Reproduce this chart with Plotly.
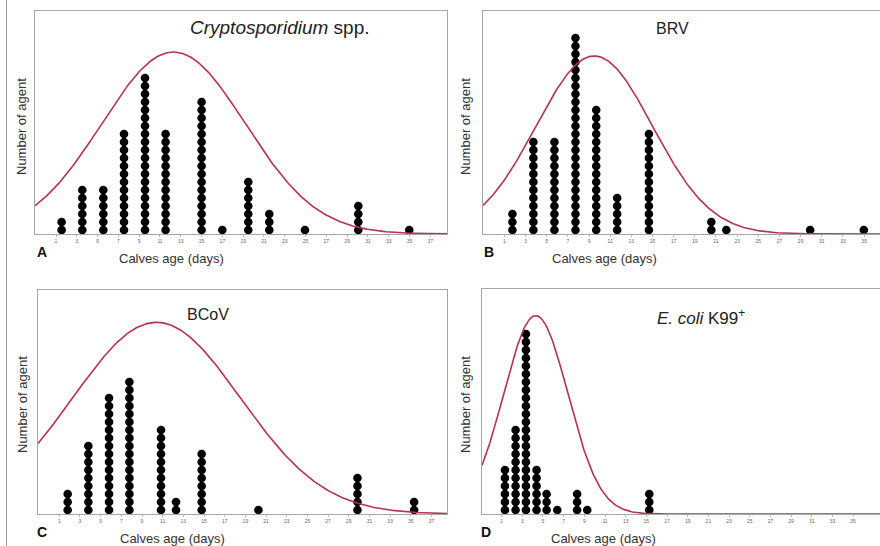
import numpy as np
import plotly.graph_objects as go

W, H = 880, 546

# ---- data (age bin centre, number of dots) ----
a_age = [1.54, 3.53, 5.55, 7.54, 9.56, 11.54, 15.0, 16.99, 19.49, 21.51, 24.94, 30.07, 34.97]
a_cnt = [2, 6, 6, 13, 20, 13, 17, 1, 7, 3, 1, 4, 1]

b_age = [1.76, 3.74, 5.73, 7.72, 9.68, 11.66, 14.66, 20.56, 21.98, 29.9, 34.97]
b_cnt = [3, 12, 12, 25, 16, 5, 13, 2, 1, 1, 1]

c_age = [1.81, 3.81, 5.81, 7.78, 10.84, 12.29, 14.77, 20.26, 29.84, 35.32]
c_cnt = [3, 9, 15, 17, 11, 2, 8, 1, 5, 2]

d_age = [1.32, 2.35, 3.35, 4.38, 5.35, 6.38, 8.3, 9.28, 15.28]
d_cnt = [6, 11, 23, 6, 3, 1, 3, 1, 3]

# normal-curve fits (mean, sd, peak height in dot units)
a_fit = (12.3, 6.9, 22.75)
b_fit = (9.5, 5.5, 22.25)
c_fit = (10.4, 8.1, 23.96)
d_fit = (4.3, 3.1, 24.8)

titles = ["<i>Cryptosporidium</i> spp.", "BRV", "BCoV", "<i>E. coli</i> K99<sup>+</sup>"]
title_sizes = [19, 16, 16, 17]
letters = ["A", "B", "C", "D"]
xtitle = "Calves age (days)"
ytitle = "Number of agent"
ticks_ac = list(range(1, 38, 2))
ticks_bd = list(range(1, 36, 2))

# ---- layout geometry (pixels) ----
panels = [
    dict(l=35, r=447, t=11, b=234, xr=(-1.02, 38.6), tt=(280, 27), lt=(42, 252), yx=22, yc=127, right=True, tv=ticks_ac),
    dict(l=483, r=880, t=11, b=234, xr=(-1.02, 36.5), tt=(672, 28), lt=(489, 252), yx=466, yc=127, right=False, tv=ticks_bd),
    dict(l=38, r=447, t=290, b=514, xr=(-1.06, 38.5), tt=(208, 314), lt=(42, 532), yx=22, yc=405, right=True, tv=ticks_ac),
    dict(l=482, r=880, t=289, b=514, xr=(-0.9, 37.6), tt=(701, 317), lt=(486, 532), yx=465, yc=405, right=False, tv=ticks_bd),
]
data = [(a_age, a_cnt, a_fit), (b_age, b_cnt, b_fit), (c_age, c_cnt, c_fit), (d_age, d_cnt, d_fit)]

DOT = 8.0  # pixel pitch of stacked dots
CURVE = "#b8324f"
GRID = "#a6a6a6"
FONT = "Arial, Liberation Sans, sans-serif"

fig = go.Figure()
layout = dict(width=W, height=H, margin=dict(l=0, r=0, t=0, b=0),
              paper_bgcolor="white", plot_bgcolor="white", showlegend=False,
              font=dict(family=FONT, color="#333"))
annotations = []
shapes = []

def px(x):
    return x / W

def py(y):
    return (H - y) / H

for i, (p, (ages, cnts, fit)) in enumerate(zip(panels, data)):
    k = "" if i == 0 else str(i + 1)
    xa, ya = "x" + k, "y" + k
    yr = (0, (p["b"] - p["t"]) / DOT)
    xs, ys = [], []
    for a, n in zip(ages, cnts):
        for j in range(n):
            xs.append(a)
            ys.append(j + 0.5)
    fig.add_trace(go.Scatter(x=xs, y=ys, mode="markers", xaxis=xa, yaxis=ya,
                             marker=dict(size=8.6, color="black", line=dict(width=0)),
                             hoverinfo="skip"))
    mu, sd, pk = fit
    cx = np.linspace(p["xr"][0], p["xr"][1], 400)
    cy = pk * np.exp(-((cx - mu) ** 2) / (2 * sd ** 2))
    fig.add_trace(go.Scatter(x=cx, y=cy, mode="lines", xaxis=xa, yaxis=ya,
                             line=dict(color=CURVE, width=1.6), hoverinfo="skip"))
    layout["xaxis" + k] = dict(domain=[px(p["l"]), px(p["r"])], range=list(p["xr"]),
                               anchor=ya, showgrid=False, zeroline=False,
                               showline=True, linecolor=GRID, linewidth=1.2, mirror=True,
                               tickvals=p["tv"], ticktext=[str(t) for t in p["tv"]],
                               ticks="outside", ticklen=2, tickcolor="#bbb", tickwidth=0.6,
                               tickfont=dict(size=5, color="#666", family=FONT))
    layout["yaxis" + k] = dict(domain=[py(p["b"]), py(p["t"])], range=list(yr),
                               anchor=xa, showgrid=False, zeroline=False,
                               showline=True, linecolor=GRID, linewidth=1.2,
                               mirror=p["right"], showticklabels=False, ticks="")
    annotations.append(dict(text=titles[i], x=px(p["tt"][0]), y=py(p["tt"][1]),
                            xref="paper", yref="paper", showarrow=False,
                            xanchor="center", yanchor="middle",
                            font=dict(size=title_sizes[i], color="#222", family=FONT)))
    annotations.append(dict(text="<b>" + letters[i] + "</b>", x=px(p["lt"][0]), y=py(p["lt"][1]),
                            xref="paper", yref="paper", showarrow=False,
                            xanchor="center", yanchor="middle",
                            font=dict(size=14, color="#111", family=FONT)))
    annotations.append(dict(text=xtitle, x=px((p["l"] + p["r"]) / 2 - 70 if p["right"] else p["l"] + 121),
                            y=py(p["b"] + 24), xref="paper", yref="paper", showarrow=False,
                            xanchor="center", yanchor="middle",
                            font=dict(size=13, color="#333", family=FONT)))
    annotations.append(dict(text=ytitle, x=px(p["yx"]), y=py(p["yc"]),
                            xref="paper", yref="paper", showarrow=False, textangle=-90,
                            xanchor="center", yanchor="middle",
                            font=dict(size=13, color="#333", family=FONT)))

shapes.append(dict(type="line", xref="paper", yref="paper", x0=px(6.5), x1=px(6.5), y0=0, y1=1,
                   line=dict(color="#999", width=1)))

layout["annotations"] = annotations
layout["shapes"] = shapes
fig.update_layout(**layout)
fig.write_html("out.html", config={"displayModeBar": False},
               post_script="document.body.style.margin='0';document.body.style.overflow='hidden';")
